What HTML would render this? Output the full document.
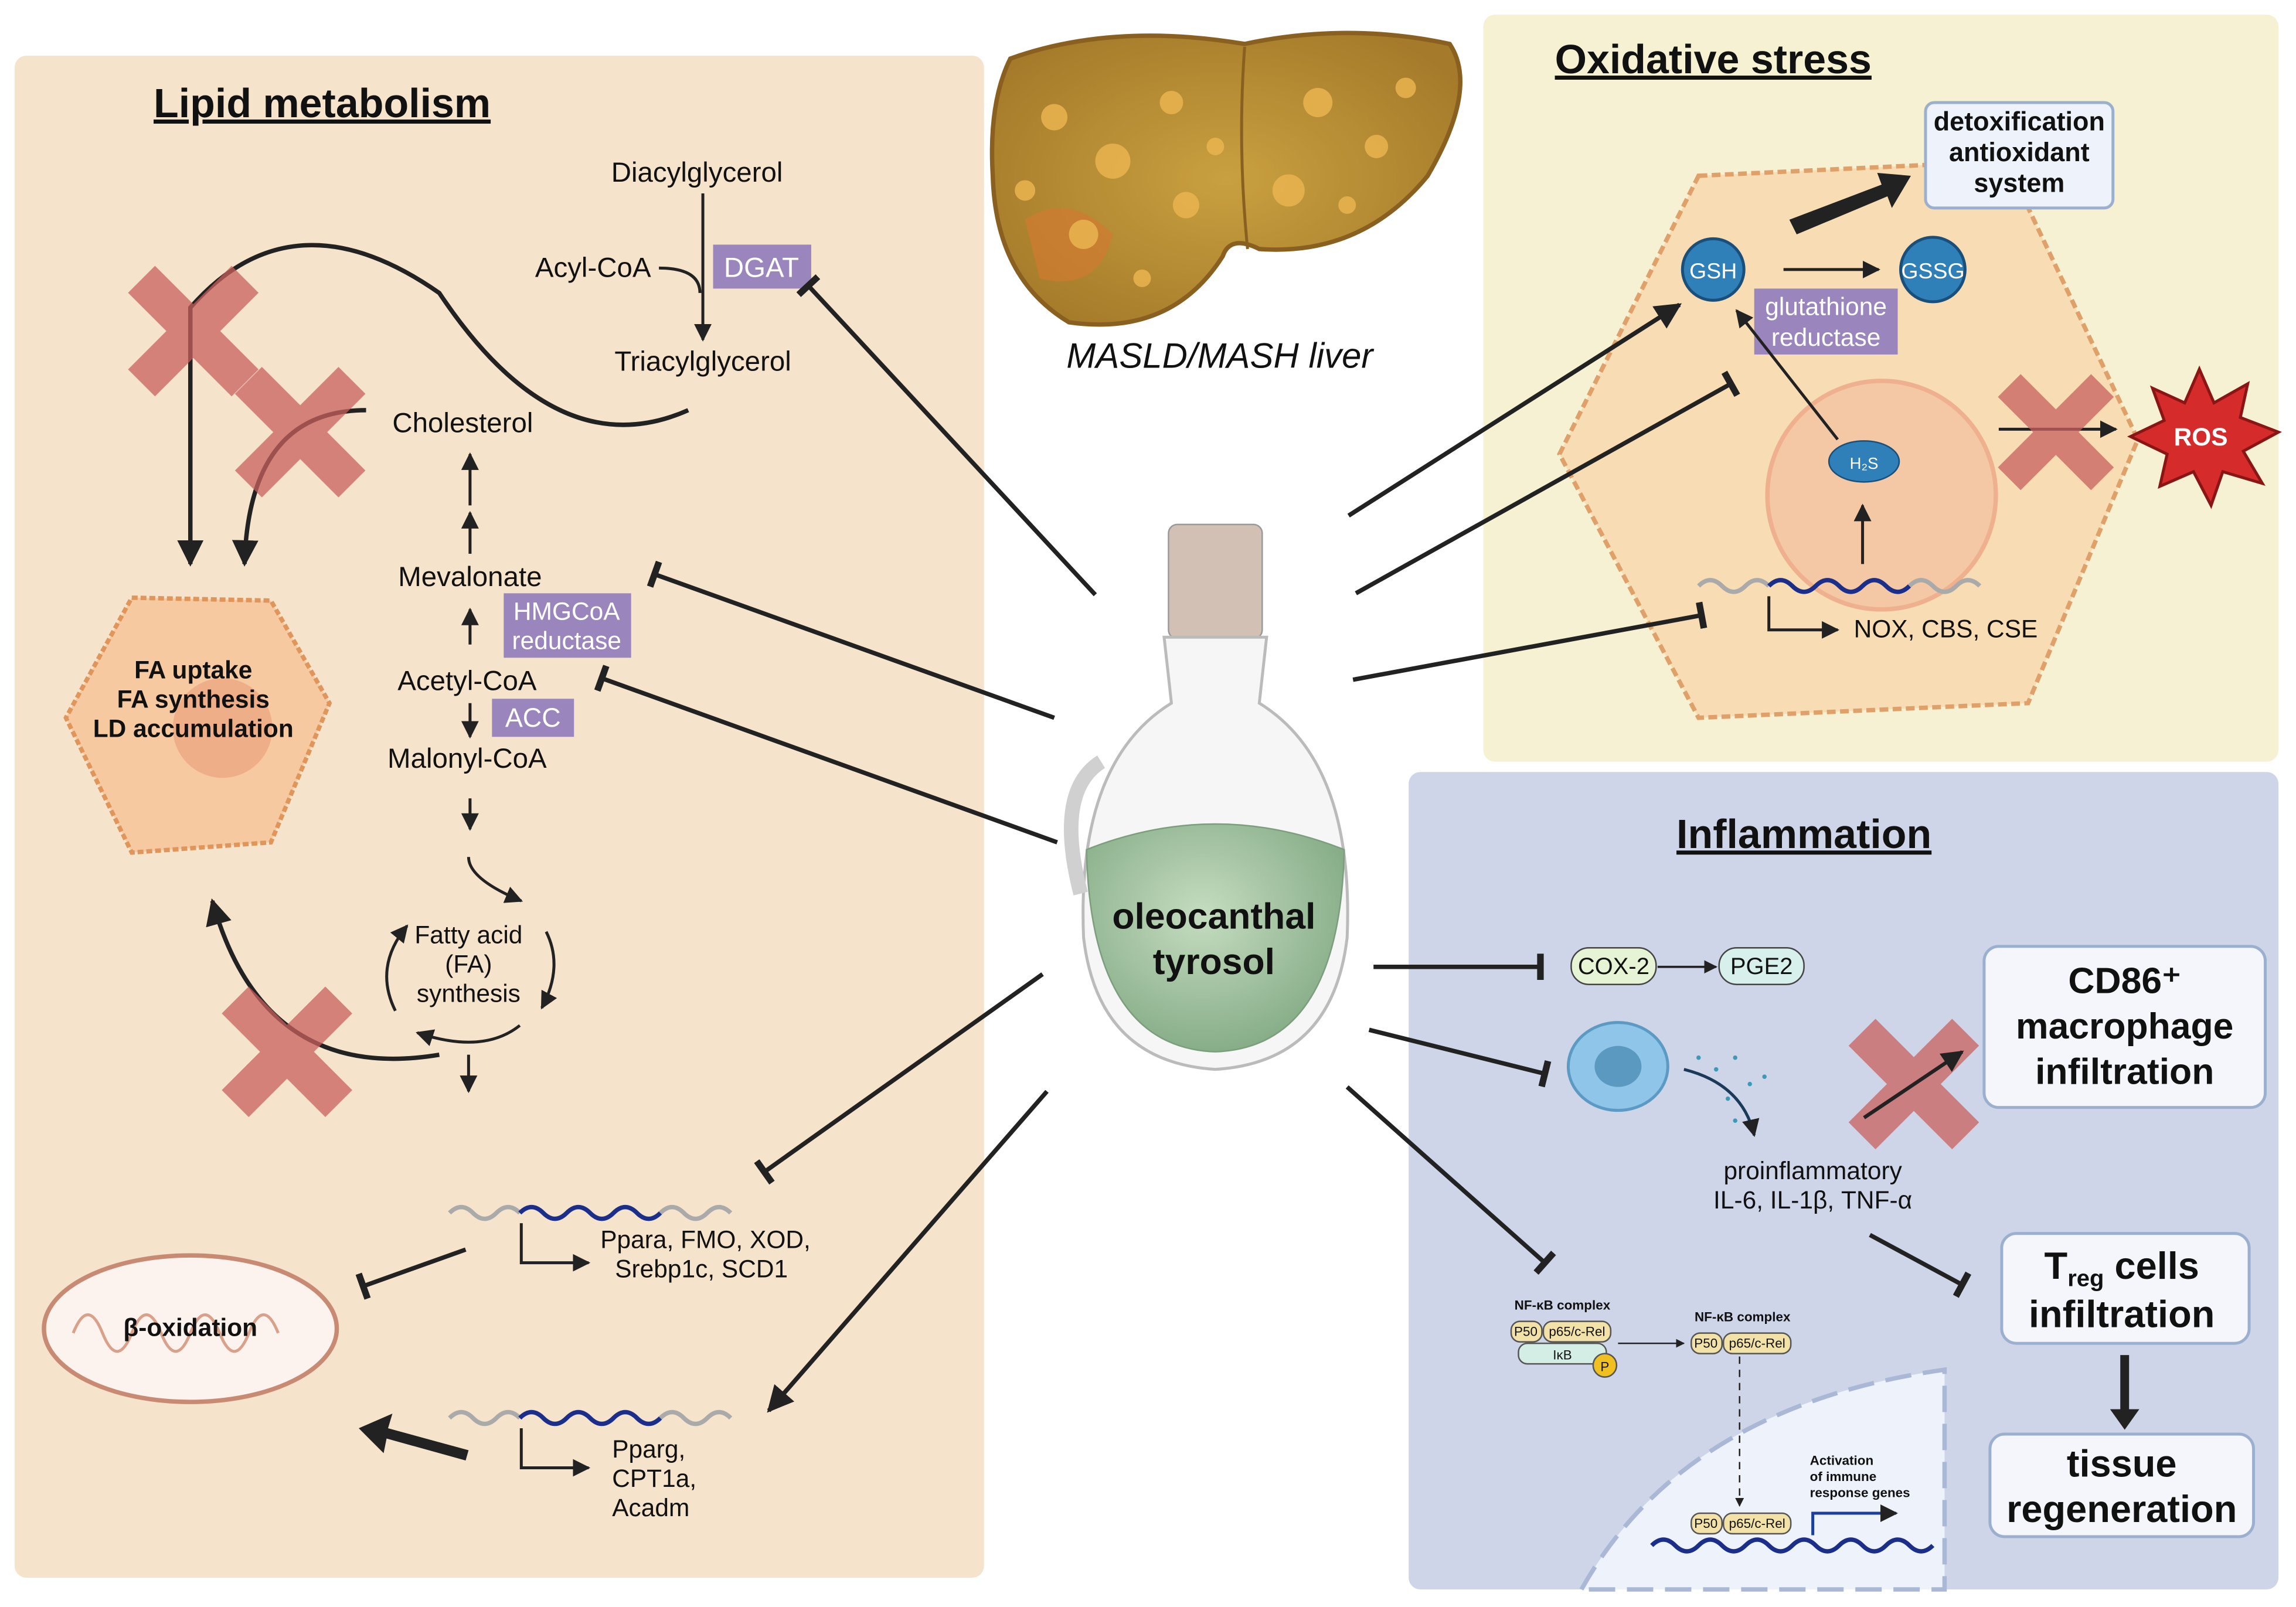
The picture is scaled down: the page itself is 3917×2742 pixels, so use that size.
<!DOCTYPE html>
<html><head><meta charset="utf-8"><style>
html,body{margin:0;padding:0;background:#fff;}
svg{display:block;}
text{font-family:"Liberation Sans",sans-serif;fill:#111;}
</style></head><body>
<svg width="3917" height="2742" viewBox="0 0 1568 1097" preserveAspectRatio="none" xmlns="http://www.w3.org/2000/svg">
<defs>
<marker id="ar" viewBox="0 0 10 10" refX="9" refY="5" markerWidth="6" markerHeight="6" orient="auto"><path d="M0,0L10,5L0,10z" fill="#222"/></marker>
<marker id="tb" viewBox="0 0 10 10" refX="5" refY="5" markerWidth="6" markerHeight="6" orient="auto"><path d="M5,0V10" stroke="#222" stroke-width="2.5"/></marker>
<radialGradient id="liv" cx="50%" cy="50%" r="60%"><stop offset="0" stop-color="#c9a040"/><stop offset="1" stop-color="#a57a2a"/></radialGradient>
<radialGradient id="gr" cx="45%" cy="40%" r="60%"><stop offset="0" stop-color="#c5dcc0"/><stop offset="1" stop-color="#87ad88"/></radialGradient>
</defs>
<rect x="10" y="38" width="662" height="1039" rx="8" fill="#f5e3cc"/>
<rect x="1013" y="10" width="543" height="510" rx="8" fill="#f5f1d2"/>
<rect x="962" y="527" width="594" height="558" rx="8" fill="#cfd5e8"/>

<text x="220" y="80" font-size="28" font-weight="bold" text-anchor="middle" text-decoration="underline">Lipid metabolism</text>
<text x="1170" y="50" font-size="28" font-weight="bold" text-anchor="middle" text-decoration="underline">Oxidative stress</text>
<text x="1232" y="579" font-size="28" font-weight="bold" text-anchor="middle" text-decoration="underline">Inflammation</text>

<path d="M690,40 Q760,15 850,30 Q920,15 990,30 Q1010,60 975,120 Q930,175 860,170 Q840,160 835,175 Q800,230 730,220 Q680,190 678,120 Q675,70 690,40z" fill="url(#liv)" stroke="#8a6020" stroke-width="3"/>
<path d="M850,32 Q845,100 852,170" stroke="#8a6020" stroke-width="2" fill="none"/>
<path d="M700,150 Q730,130 760,160 Q750,200 710,190z" fill="#d27a30" opacity="0.7"/>
<g fill="#eab450" opacity="0.85"><circle cx="720" cy="80" r="9"/><circle cx="760" cy="110" r="12"/><circle cx="800" cy="70" r="8"/><circle cx="740" cy="160" r="10"/><circle cx="900" cy="70" r="10"/><circle cx="940" cy="100" r="8"/><circle cx="880" cy="130" r="11"/><circle cx="810" cy="140" r="9"/><circle cx="960" cy="60" r="7"/><circle cx="700" cy="130" r="7"/><circle cx="780" cy="190" r="6"/><circle cx="920" cy="140" r="6"/><circle cx="830" cy="100" r="6"/></g>
<text x="833" y="251" font-size="24" font-style="italic" text-anchor="middle">MASLD/MASH liver</text>

<rect x="798" y="358" width="64" height="78" rx="6" fill="#d2c0b4" stroke="#999"/>
<path d="M795,435 L865,435 L860,480 Q925,520 920,640 Q910,725 830,730 Q750,725 740,640 Q735,520 800,480z" fill="#f6f6f6" stroke="#bbb" stroke-width="2"/>
<path d="M752,520 Q720,540 738,610" stroke="#d0d0d0" stroke-width="10" fill="none"/>
<path d="M742,580 Q830,545 918,580 Q915,715 830,718 Q745,715 742,580z" fill="url(#gr)" stroke="#7c9e7e"/>
<text x="829" y="634" font-size="25" font-weight="bold" text-anchor="middle">oleocanthal</text>
<text x="829" y="665" font-size="25" font-weight="bold" text-anchor="middle">tyrosol</text>

<g font-size="19">
<text x="476" y="124" text-anchor="middle">Diacylglycerol</text>
<text x="405" y="189" text-anchor="middle">Acyl-CoA</text>
<text x="480" y="253" text-anchor="middle">Triacylglycerol</text>
<text x="316" y="295" text-anchor="middle">Cholesterol</text>
<text x="321" y="400" text-anchor="middle">Mevalonate</text>
<text x="319" y="471" text-anchor="middle">Acetyl-CoA</text>
<text x="319" y="524" text-anchor="middle">Malonyl-CoA</text>
</g>
<line x1="480" y1="132" x2="480" y2="232" stroke="#222" stroke-width="2" marker-end="url(#ar)"/>
<path d="M450,183 Q478,183 478,200" stroke="#222" stroke-width="2" fill="none"/>
<rect x="487" y="167" width="67" height="30" fill="#9a86bd"/><text x="520" y="189" font-size="19" text-anchor="middle" style="fill:#fff">DGAT</text>
<rect x="344" y="405" width="87" height="44" fill="#9a86bd"/><text x="387" y="423" font-size="17" text-anchor="middle" style="fill:#fff">HMGCoA</text><text x="387" y="443" font-size="17" text-anchor="middle" style="fill:#fff">reductase</text>
<rect x="336" y="477" width="56" height="26" fill="#9a86bd"/><text x="364" y="496" font-size="18" text-anchor="middle" style="fill:#fff">ACC</text>
<g stroke="#222" stroke-width="2" marker-end="url(#ar)">
<line x1="321" y1="345" x2="321" y2="310"/><line x1="321" y1="378" x2="321" y2="350"/><line x1="321" y1="440" x2="321" y2="416"/>
<line x1="321" y1="480" x2="321" y2="503"/><line x1="321" y1="545" x2="321" y2="566"/>
</g>
<g stroke="#222" stroke-width="2" fill="none" marker-end="url(#ar)">
<path d="M320,585 Q320,600 356,615"/><path d="M373,636 Q385,660 370,688"/><path d="M355,700 Q330,720 285,705"/><path d="M270,690 Q255,660 278,632"/>
<path d="M320,720 Q320,735 320,745"/>
</g>
<text x="320" y="644" font-size="17" text-anchor="middle">Fatty acid</text><text x="320" y="664" font-size="17" text-anchor="middle">(FA)</text><text x="320" y="684" font-size="17" text-anchor="middle">synthesis</text>
<path d="M90,408 L185,410 L225,480 L185,575 L90,582 L45,490z" fill="#f6c9a0" stroke="#e0955a" stroke-width="3" stroke-dasharray="4 2"/>
<circle cx="152" cy="497" r="34" fill="#eeae88"/>
<g font-size="17" font-weight="bold" text-anchor="middle"><text x="132" y="463">FA uptake</text><text x="132" y="483">FA synthesis</text><text x="132" y="503">LD accumulation</text></g>
<g stroke="#222" stroke-width="3" fill="none" marker-end="url(#ar)">
<path d="M470,280 Q380,320 300,200 Q200,130 130,210 L130,385"/>
<path d="M250,280 Q170,280 167,385"/>
<path d="M300,720 Q180,740 145,615"/>
</g>
<g fill="#c9605e" opacity="0.75">
<g transform="translate(132,226) rotate(45)"><rect x="-50" y="-13" width="100" height="26"/><rect x="-13" y="-50" width="26" height="100"/></g>
<g transform="translate(205,295) rotate(45)"><rect x="-50" y="-13" width="100" height="26"/><rect x="-13" y="-50" width="26" height="100"/></g>
<g transform="translate(196,718) rotate(45)"><rect x="-50" y="-13" width="100" height="26"/><rect x="-13" y="-50" width="26" height="100"/></g>
</g>
<g stroke-width="3" fill="none">
<path d="M307,828 q8,-8 16,0 t16,0 t16,0" stroke="#aaa"/><path d="M355,828 q8,-8 16,0 t16,0 t16,0 t16,0 t16,0 t16,0" stroke="#1b2f8a"/><path d="M451,828 q8,-8 16,0 t16,0 t16,0" stroke="#aaa"/>
<path d="M307,968 q8,-8 16,0 t16,0 t16,0" stroke="#aaa"/><path d="M355,968 q8,-8 16,0 t16,0 t16,0 t16,0 t16,0 t16,0" stroke="#1b2f8a"/><path d="M451,968 q8,-8 16,0 t16,0 t16,0" stroke="#aaa"/>
</g>
<path d="M356,835 V862 H402" stroke="#222" stroke-width="2" fill="none" marker-end="url(#ar)"/>
<path d="M356,975 V1002 H402" stroke="#222" stroke-width="2" fill="none" marker-end="url(#ar)"/>
<g font-size="17"><text x="410" y="852">Ppara, FMO, XOD,</text><text x="420" y="872">Srebp1c, SCD1</text>
<text x="418" y="995">Pparg,</text><text x="418" y="1015">CPT1a,</text><text x="418" y="1035">Acadm</text></g>
<ellipse cx="130" cy="907" rx="100" ry="50" fill="#fdf3ee" stroke="#c98a74" stroke-width="3"/>
<path d="M50,910 q10,-25 20,0 t20,0 t20,0 t20,0 t20,0 t20,0 t20,0" stroke="#d9a08a" stroke-width="2" fill="none"/>
<text x="130" y="912" font-size="17" font-weight="bold" text-anchor="middle">β-oxidation</text>
<line x1="318" y1="853" x2="248" y2="878" stroke="#222" stroke-width="3" marker-end="url(#tb)"/>
<path d="M320,990 L265,975 L268,965 L245,975 L262,992 L264,982 L318,997z" fill="#222"/>

<!-- oxidative cell -->
<path d="M1160,120 L1370,110 L1460,300 L1385,480 L1160,490 L1065,310z" fill="#f8dcb4" stroke="#e0a06a" stroke-width="3" stroke-dasharray="6 3"/>
<circle cx="1285" cy="338" r="78" fill="#f4c8a4" stroke="#eeb08e" stroke-width="3"/>
<rect x="1315" y="70" width="128" height="72" rx="6" fill="#eef2fb" stroke="#9bb0cf" stroke-width="2"/>
<g font-size="18" font-weight="bold" text-anchor="middle"><text x="1379" y="89">detoxification</text><text x="1379" y="110">antioxidant</text><text x="1379" y="131">system</text></g>
<path d="M1222,150 L1285,126 L1282,118 L1305,120 L1292,142 L1289,134 L1227,160z" fill="#222"/>
<circle cx="1170" cy="184" r="21" fill="#2f7fb8" stroke="#1a4f7a" stroke-width="2"/><text x="1170" y="190" font-size="15" text-anchor="middle" style="fill:#fff">GSH</text>
<circle cx="1320" cy="184" r="22" fill="#2f7fb8" stroke="#1a4f7a" stroke-width="2"/><text x="1320" y="190" font-size="15" text-anchor="middle" style="fill:#fff">GSSG</text>
<line x1="1218" y1="184" x2="1283" y2="184" stroke="#222" stroke-width="2" marker-end="url(#ar)"/>
<rect x="1198" y="197" width="98" height="45" fill="#9a86bd"/><text x="1247" y="215" font-size="17" text-anchor="middle" style="fill:#fff">glutathione</text><text x="1247" y="236" font-size="17" text-anchor="middle" style="fill:#fff">reductase</text>
<line x1="1255" y1="300" x2="1186" y2="212" stroke="#222" stroke-width="2" marker-end="url(#ar)"/>
<ellipse cx="1273" cy="315" rx="24" ry="14" fill="#2f7fb8" stroke="#1a4f7a"/><text x="1273" y="320" font-size="11" text-anchor="middle" style="fill:#fff">H₂S</text>
<line x1="1272" y1="385" x2="1272" y2="345" stroke="#222" stroke-width="2" marker-end="url(#ar)"/>
<path d="M1160,400 q8,-8 16,0 t16,0 t16,0" stroke="#aaa" stroke-width="3" fill="none"/><path d="M1208,400 q8,-8 16,0 t16,0 t16,0 t16,0 t16,0 t16,0" stroke="#1b2f8a" stroke-width="3" fill="none"/><path d="M1304,400 q8,-8 16,0 t16,0 t16,0" stroke="#aaa" stroke-width="3" fill="none"/>
<path d="M1208,407 V430 H1255" stroke="#222" stroke-width="2" fill="none" marker-end="url(#ar)"/>
<text x="1266" y="435" font-size="17">NOX, CBS, CSE</text>
<line x1="1365" y1="293" x2="1445" y2="293" stroke="#222" stroke-width="2" marker-end="url(#ar)"/>
<g transform="translate(1404,295) rotate(45)" fill="#c9605e" opacity="0.75"><rect x="-45" y="-11" width="90" height="22"/><rect x="-11" y="-45" width="22" height="90"/></g>
<path d="M1502,252 L1512,275 L1535,262 L1530,285 L1556,295 L1532,308 L1545,330 L1518,322 L1510,345 L1498,322 L1475,332 L1480,310 L1455,298 L1478,287 L1470,265 L1492,275z" fill="#d62b2b" stroke="#8a1515" stroke-width="2"/>
<text x="1503" y="304" font-size="17" font-weight="bold" text-anchor="middle" style="fill:#fff">ROS</text>

<!-- connectors from bottle -->
<g stroke="#222" stroke-width="3" fill="none" marker-end="url(#tb)">
<line x1="748" y1="406" x2="552" y2="195"/>
<line x1="720" y1="490" x2="447" y2="392"/>
<line x1="722" y1="575" x2="411" y2="463"/>
<line x1="712" y1="665" x2="522" y2="800"/>
<line x1="926" y1="405" x2="1182" y2="262"/>
<line x1="924" y1="464" x2="1162" y2="420"/>
<line x1="938" y1="660" x2="1052" y2="660"/>
<line x1="935" y1="703" x2="1055" y2="733"/>
<line x1="920" y1="742" x2="1055" y2="862"/>
<line x1="1277" y1="843" x2="1340" y2="877"/>
</g>
<g stroke="#222" stroke-width="3" fill="none" marker-end="url(#ar)">
<line x1="715" y1="745" x2="525" y2="963"/>
<line x1="921" y1="352" x2="1147" y2="208"/>
</g>

<!-- inflammation -->
<rect x="1073" y="647" width="58" height="25" rx="12" fill="#e6f3d4" stroke="#444"/><text x="1102" y="665" font-size="16" text-anchor="middle">COX-2</text>
<rect x="1174" y="647" width="58" height="25" rx="12" fill="#d7f0ec" stroke="#444"/><text x="1203" y="665" font-size="16" text-anchor="middle">PGE2</text>
<line x1="1132" y1="660" x2="1172" y2="660" stroke="#222" stroke-width="1.5" marker-end="url(#ar)"/>
<ellipse cx="1105" cy="728" rx="34" ry="30" fill="#8ec5e8" stroke="#5c9ac4" stroke-width="2"/><ellipse cx="1105" cy="728" rx="16" ry="14" fill="#5c99c0"/>
<path d="M1150,730 Q1190,740 1198,775" stroke="#1b3a5a" stroke-width="2" fill="none" marker-end="url(#ar)"/>
<g fill="#3a9ab8"><circle cx="1160" cy="722" r="1.5"/><circle cx="1172" cy="730" r="1.5"/><circle cx="1185" cy="722" r="1.5"/><circle cx="1195" cy="740" r="1.5"/><circle cx="1180" cy="750" r="1.5"/><circle cx="1205" cy="735" r="1.5"/><circle cx="1185" cy="765" r="1.5"/></g>
<text x="1238" y="805" font-size="17" text-anchor="middle">proinflammatory</text><text x="1238" y="825" font-size="17" text-anchor="middle">IL-6, IL-1β, TNF-α</text>
<g transform="translate(1307,740) rotate(45)" fill="#c9605e" opacity="0.75"><rect x="-50" y="-13" width="100" height="26"/><rect x="-13" y="-50" width="26" height="100"/></g>
<line x1="1273" y1="763" x2="1340" y2="718" stroke="#222" stroke-width="2.5" marker-end="url(#ar)"/>
<rect x="1355" y="646" width="192" height="110" rx="10" fill="#f4f6fc" stroke="#9bb0cf" stroke-width="2"/>
<g font-size="25" font-weight="bold" text-anchor="middle"><text x="1451" y="678">CD86⁺</text><text x="1451" y="709">macrophage</text><text x="1451" y="740">infiltration</text></g>
<rect x="1367" y="842" width="169" height="75" rx="10" fill="#f4f6fc" stroke="#9bb0cf" stroke-width="2"/>
<g font-size="26" font-weight="bold" text-anchor="middle"><text x="1449" y="873">T<tspan font-size="16" dy="5">reg</tspan><tspan dy="-5"> cells</tspan></text><text x="1449" y="906">infiltration</text></g>
<line x1="1451" y1="925" x2="1451" y2="970" stroke="#222" stroke-width="6"/><path d="M1441,962 L1461,962 L1451,976z" fill="#222"/>
<rect x="1359" y="979" width="180" height="70" rx="10" fill="#f4f6fc" stroke="#9bb0cf" stroke-width="2"/>
<g font-size="26" font-weight="bold" text-anchor="middle"><text x="1449" y="1008">tissue</text><text x="1449" y="1039">regeneration</text></g>
<path d="M1080,1085 Q1150,960 1328,935 L1328,1085z" fill="#eef2fb" stroke="#aab8d6" stroke-width="3" stroke-dasharray="18 8"/>
<text x="1067" y="894" font-size="9" font-weight="bold" text-anchor="middle">NF-κB complex</text>
<rect x="1032" y="902" width="21" height="14" rx="6" fill="#f3e2a8" stroke="#555"/><text x="1042" y="912" font-size="9" text-anchor="middle">P50</text>
<rect x="1054" y="902" width="46" height="14" rx="6" fill="#f3e2a8" stroke="#555"/><text x="1077" y="912" font-size="9" text-anchor="middle">p65/c-Rel</text>
<rect x="1037" y="917" width="60" height="14" rx="6" fill="#d5eee5" stroke="#555"/><text x="1067" y="928" font-size="9" text-anchor="middle">IκB</text>
<circle cx="1096" cy="932" r="8" fill="#f0c020" stroke="#555"/><text x="1096" y="936" font-size="9" text-anchor="middle">P</text>
<line x1="1105" y1="917" x2="1150" y2="917" stroke="#222" stroke-width="1" marker-end="url(#ar)"/>
<text x="1190" y="902" font-size="9" font-weight="bold" text-anchor="middle">NF-κB complex</text>
<rect x="1155" y="910" width="21" height="14" rx="6" fill="#f3e2a8" stroke="#555"/><text x="1165" y="920" font-size="9" text-anchor="middle">P50</text>
<rect x="1177" y="910" width="46" height="14" rx="6" fill="#f3e2a8" stroke="#555"/><text x="1200" y="920" font-size="9" text-anchor="middle">p65/c-Rel</text>
<line x1="1188" y1="926" x2="1188" y2="1028" stroke="#222" stroke-width="1" stroke-dasharray="5 4" marker-end="url(#ar)"/>
<rect x="1155" y="1033" width="21" height="14" rx="6" fill="#f3e2a8" stroke="#555"/><text x="1165" y="1043" font-size="9" text-anchor="middle">P50</text>
<rect x="1177" y="1033" width="46" height="14" rx="6" fill="#f3e2a8" stroke="#555"/><text x="1200" y="1043" font-size="9" text-anchor="middle">p65/c-Rel</text>
<path d="M1128,1055 q8,-8 16,0 t16,0 t16,0 t16,0 t16,0 t16,0 t16,0 t16,0 t16,0 t16,0 t16,0 t16,0" stroke="#1b2f8a" stroke-width="3" fill="none"/>
<path d="M1238,1048 V1033 H1295" stroke="#1b3f9a" stroke-width="2" fill="none" marker-end="url(#ar)"/>
<g font-size="9" font-weight="bold"><text x="1236" y="1000">Activation</text><text x="1236" y="1011">of immune</text><text x="1236" y="1022">response genes</text></g>
</svg>
</body></html>
